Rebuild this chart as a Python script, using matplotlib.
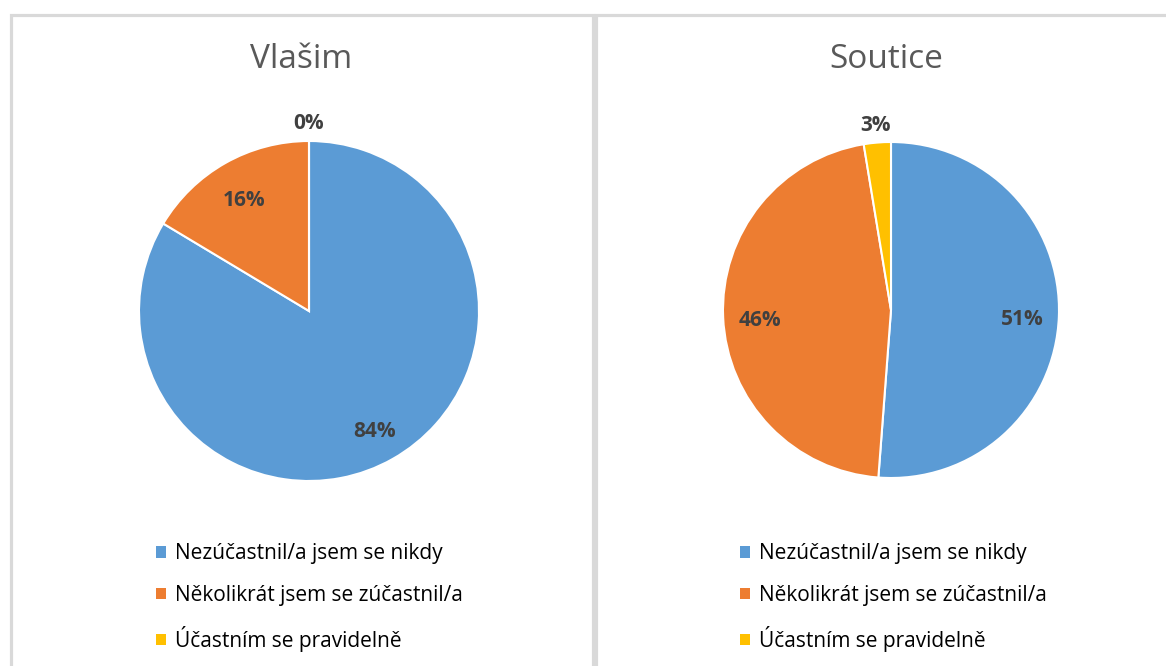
import numpy as np
import matplotlib
matplotlib.use("Agg")
import matplotlib.pyplot as plt
from matplotlib.patches import Rectangle, Patch

plt.rcParams['font.family'] = ['Open Sans', 'DejaVu Sans']

categories = ["Nezúčastnil/a jsem se nikdy",
              "Několikrát jsem se zúčastnil/a",
              "Účastním se pravidelně"]
vlasim = [83.6, 16.4, 0.0]
soutice = [51.2, 46.2, 2.6]
titles = ["Vlašim", "Soutice"]
colors = ["#5B9BD5", "#ED7D31", "#FFC000"]

W, H = 1166, 666
fig = plt.figure(figsize=(W / 100, H / 100), dpi=100)
fig.patch.set_facecolor("white")

def fx(px):
    return px / W

def fy(py):
    return 1 - py / H

# panel borders
for x0, x1 in [(10.5, 592.5), (595.5, 1175)]:
    fig.patches.append(Rectangle((fx(x0), fy(700)), fx(x1) - fx(x0), fy(15.5) - fy(700),
                                 transform=fig.transFigure, fill=False,
                                 edgecolor="#D9D9D9", linewidth=2.3, zorder=0))

panels = [
    dict(vals=vlasim, title=titles[0], cx=309, cy=311, r=170, tx=301, leg_x=148),
    dict(vals=soutice, title=titles[1], cx=891, cy=310, r=168, tx=886, leg_x=732),
]

for p in panels:
    r = p["r"]
    ax = fig.add_axes([fx(p["cx"] - r), fy(p["cy"] + r), 2 * r / W, 2 * r / H])
    wedges, _ = ax.pie(p["vals"], colors=colors, startangle=90, counterclock=False,
                       wedgeprops=dict(edgecolor="white", linewidth=1.5))
    ax.set_xlim(-1, 1)
    ax.set_ylim(-1, 1)
    ax.set_aspect("equal")
    ax.axis("off")
    total = sum(p["vals"])
    for w, v in zip(wedges, p["vals"]):
        mid = np.deg2rad((w.theta1 + w.theta2) / 2)
        frac = v / total
        d = 1.1 if frac < 0.05 else 0.78
        ax.text(d * np.cos(mid), d * np.sin(mid) - (0.0 if frac < 0.05 else 0.03),
                f"{round(v):.0f}%",
                ha="center", va="center", fontsize=15, fontweight="bold",
                color="#404040", clip_on=False)
    fig.text(fx(p["tx"]), fy(60), p["title"], ha="center", va="center",
             fontsize=24, color="#595959")
    handles = [Patch(facecolor=c, edgecolor="none") for c in colors]
    fig.legend(handles, categories, loc="upper left",
               bbox_to_anchor=(fx(p["leg_x"]), fy(535)), frameon=False,
               fontsize=15, handlelength=0.45, handleheight=0.45,
               handletextpad=0.45, labelspacing=0.98, borderaxespad=0,
               labelcolor="#000000")

fig.savefig("out.png", dpi=100, facecolor="white")
